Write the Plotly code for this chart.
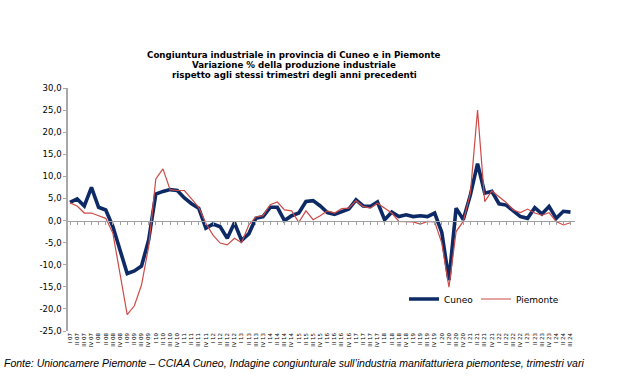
import plotly.graph_objects as go

# ---- data ----
years = ["07", "08", "09", "10", "11", "12", "13", "14", "15", "16", "17", "18",
         "19", "20", "21", "22", "23", "24"]
quarters = ["I", "II", "III", "IV"]
n_points = 71  # I 07 .. III 24

cuneo = [4.1, 4.9, 3.3, 7.5, 3.0, 2.4, -1.4, -6.7, -12.0, -11.4, -10.3, -4.4,
         6.0, 6.6, 7.0, 6.8, 5.1, 3.8, 2.8, -1.7, -0.8, -1.4, -4.0, -0.5,
         -4.5, -3.0, 0.5, 0.9, 3.0, 3.0, 0.0, 1.1, 1.7, 4.3, 4.5, 3.3,
         1.8, 1.4, 1.9, 2.6, 4.7, 3.3, 3.2, 4.2, 0.2, 1.9, 0.9, 1.3,
         0.9, 1.1, 0.9, 1.7, -2.7, -13.5, 2.8, 0.2, 5.8, 12.9, 6.2, 6.6,
         3.8, 3.5, 2.2, 0.9, 0.5, 2.9, 1.5, 3.2, 0.5, 2.1, 1.9]

piemonte = [4.0, 3.3, 1.7, 1.7, 1.1, 0.5, -2.9, -12.0, -21.3, -19.3, -14.6, -5.9,
            9.4, 11.7, 7.0, 6.8, 6.8, 4.9, 3.0, -0.6, -3.3, -5.1, -5.5, -4.0,
            -5.0, -1.0, 0.8, 1.1, 3.6, 4.2, 2.4, 2.2, -0.4, 2.2, 0.2, 1.1,
            2.2, 1.7, 2.7, 2.8, 4.5, 3.2, 2.8, 3.9, 2.8, 1.7, -0.2, -0.2,
            -0.3, -0.8, -0.2, -0.3, -5.1, -15.1, -2.5, -0.2, 6.2, 25.0, 4.3, 6.7,
            5.5, 4.1, 2.4, 1.8, 2.6, 1.7, 1.2, 1.8, -0.2, -1.0, -0.5]

y_ticks = [30, 25, 20, 15, 10, 5, 0, -5, -10, -15, -20, -25]

title_lines = ["Congiuntura industriale in provincia di Cuneo e in Piemonte",
               "Variazione % della produzione industriale",
               "rispetto agli stessi trimestri degli anni precedenti"]

labels = [f"{quarters[i % 4]} {years[i // 4]}" for i in range(n_points)]
xs = list(range(n_points))

# ---- layout geometry (pixels) ----
W, H = 631, 392
L, R = 68, 575
T, B = 88, 331
ymin, ymax = -25, 30
xmin, xmax = -0.28, 70.63

def px_x(p):
    return (p - L) / (R - L)

def px_y(p):
    return (B - p) / (B - T)

zero_pos = (0 - ymin) / (ymax - ymin)

fig = go.Figure()
fig.add_trace(go.Scatter(x=xs, y=cuneo, name="Cuneo", mode="lines",
                         line=dict(color="#0d2a66", width=3.6), legend="legend"))
fig.add_trace(go.Scatter(x=xs, y=piemonte, name="Piemonte", mode="lines",
                         line=dict(color="#cc4b47", width=1.2), legend="legend2"))
# invisible trace on xaxis2 to activate zero-line axis with ticks
fig.add_trace(go.Scatter(x=xs, y=[None] * n_points, xaxis="x2", showlegend=False,
                         hoverinfo="skip"))

legend_common = dict(
    orientation="h", yanchor="middle", xanchor="left",
    font=dict(size=9, family="DejaVu Sans", color="#000000"), itemwidth=30,
    bgcolor="rgba(0,0,0,0)",
)

# title lines as separate annotations for tight line spacing
title_y = [55, 65, 75]
annotations = [dict(
    text=f"<b>{line}</b>", xref="paper", yref="paper",
    x=px_x(294), y=px_y(yy), xanchor="center", yanchor="middle", showarrow=False,
    font=dict(family="DejaVu Sans", size=8.7, color="#000000"),
) for line, yy in zip(title_lines, title_y)]

annotations.append(dict(
    text="<i>Fonte: Unioncamere Piemonte – CCIAA Cuneo, Indagine congiunturale "
         "sull’industria manifatturiera piemontese, trimestri vari</i>",
    xref="paper", yref="paper", x=px_x(2), y=px_y(363),
    xanchor="left", yanchor="middle", showarrow=False,
    font=dict(family="Liberation Sans", size=10.5, color="#000000"),
))

fig.update_layout(
    width=W, height=H,
    margin=dict(l=L, r=W - R, t=T, b=H - B),
    paper_bgcolor="white", plot_bgcolor="white",
    font=dict(family="DejaVu Sans", color="#000000"),
    xaxis=dict(
        range=[xmin, xmax], tickmode="array", tickvals=xs, ticktext=labels,
        tickangle=-90, tickfont=dict(size=5.5, family="DejaVu Sans"),
        showgrid=False, zeroline=False, showline=False, ticks="",
        automargin=False,
    ),
    xaxis2=dict(
        overlaying="x", anchor="free", position=zero_pos, range=[xmin, xmax],
        showticklabels=False, ticks="outside", ticklen=3, tickcolor="#a0a0a0",
        tickmode="linear", tick0=0, dtick=1, showgrid=False, zeroline=False,
        showline=True, linecolor="#a0a0a0", linewidth=1.2, side="bottom",
        automargin=False,
    ),
    yaxis=dict(
        range=[ymin, ymax], tickmode="array", tickvals=y_ticks,
        ticktext=[f"{v:.1f}".replace(".", ",") for v in y_ticks],
        tickfont=dict(size=8.5, family="DejaVu Sans"),
        showgrid=False, zeroline=False, showline=True, linecolor="#a8a8a8",
        linewidth=1.5, ticks="outside", ticklen=3, tickcolor="#a8a8a8",
        automargin=False,
    ),
    legend=dict(x=px_x(404), y=px_y(299), **legend_common),
    legend2=dict(x=px_x(476), y=px_y(299), **legend_common),
    annotations=annotations,
)

fig.write_html("out.html",
               config={"displayModeBar": False},
               post_script="document.body.style.margin='0';"
                           "document.body.style.overflow='hidden';")
